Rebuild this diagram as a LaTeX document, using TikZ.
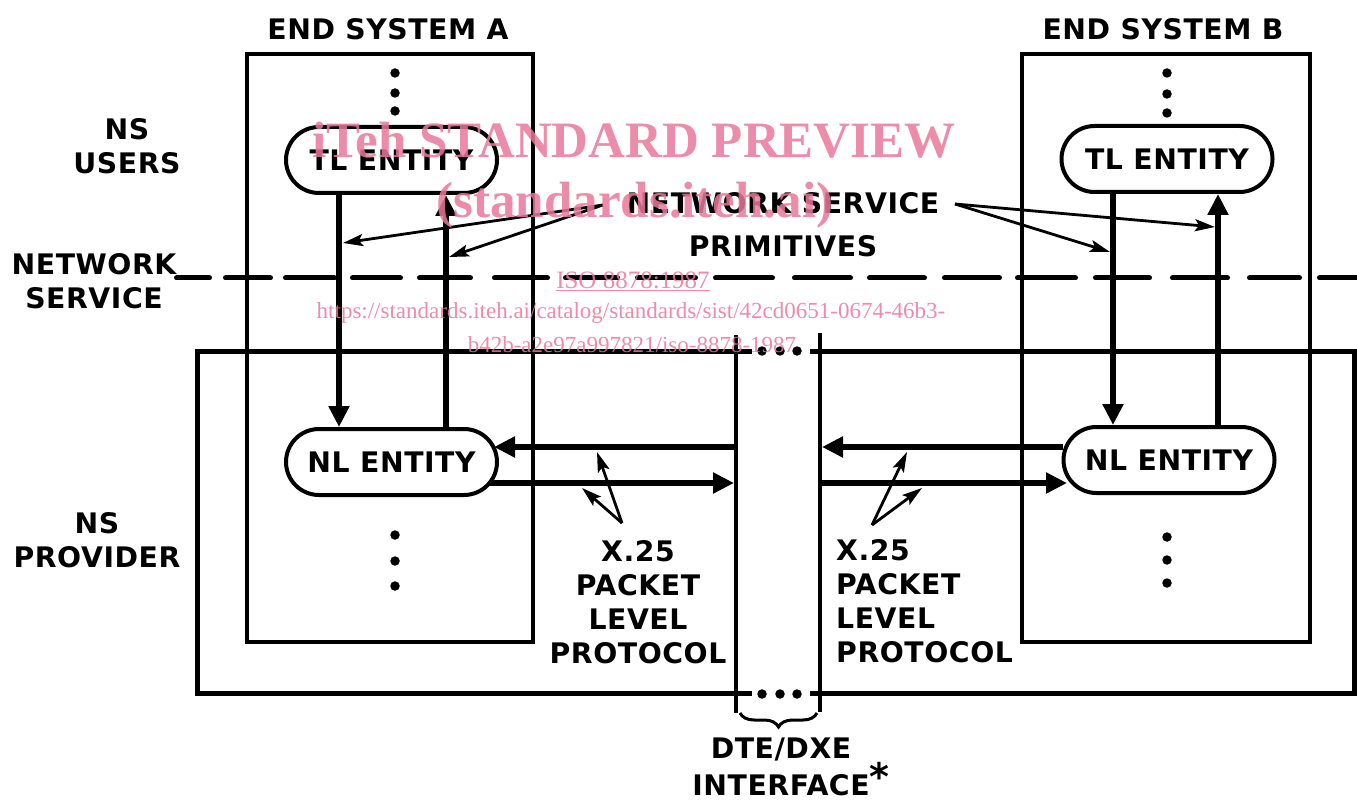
\documentclass[tikz,border=0pt]{standalone}
\usepackage{fontspec}
\usetikzlibrary{arrows.meta,shapes.misc,decorations.pathreplacing}
\newfontfamily\lab{DejaVu Sans}[LetterSpace=2]
\newfontfamily\wm{Liberation Serif}
\definecolor{wmpink}{RGB}{233,120,155}
\begin{document}
\begin{tikzpicture}[x=1pt,y=-1pt,
  txt/.style={font=\lab\bfseries\fontsize{28.3}{34}\selectfont, align=center, inner sep=0pt},
  pill/.style={draw, rounded rectangle, line width=4pt, minimum width=211pt, minimum height=66pt, inner sep=0pt, font=\lab\bfseries\fontsize{28.3}{34}\selectfont},
  sysbox/.style={draw, line width=4pt},
  big/.style={line width=6pt, -{Triangle[length=21pt,width=20pt]}},
  thin/.style={line width=2.8pt, -{Stealth[length=20pt,width=12pt,inset=4pt]}},
  bound/.style={line width=5pt},
  dteline/.style={line width=4pt},
  dashseg/.style={line width=5pt, line cap=round},
  dot/.style={fill, circle, inner sep=0pt, minimum size=9.5pt},
  wmark/.style={text=wmpink, text opacity=0.85, inner sep=0pt}
]
\useasboundingbox (0,0) rectangle (1357,802);

% end system boxes
\draw[sysbox] (247,54) rectangle (533,642);
\draw[sysbox] (1022,54) rectangle (1310,642);
\node[txt] (esA) at (388,29) {END SYSTEM A};
\node[txt] (esB) at (1163,29) {END SYSTEM B};

% dots
\foreach \y [count=\i] in {73,93,111} \node[dot] (dAt\i) at (395,\y) {};
\foreach \y [count=\i] in {535,561,586} \node[dot] (dAb\i) at (395,\y) {};
\foreach \y [count=\i] in {73,94,113} \node[dot] (dBt\i) at (1167,\y) {};
\foreach \y [count=\i] in {537,560,583} \node[dot] (dBb\i) at (1167,\y) {};

% entities
\node[pill] (tlA) at (391.5,160) {TL ENTITY};
\node[pill] (nlA) at (391.5,462) {NL ENTITY};
\node[pill] (tlB) at (1167,159) {TL ENTITY};
\node[pill] (nlB) at (1169,460) {NL ENTITY};

% provider box with gaps
\draw[bound] (752,351) -- (197,351) -- (197,693) -- (752,693);
\draw[bound] (810,693) -- (1354,693) -- (1354,351) -- (810,351);
\foreach \x [count=\i] in {762,780,797} {
  \node[dot] (pt\i) at (\x,351) {};
  \node[dot] (pb\i) at (\x,694) {};
}

% DTE/DXE lines
\coordinate (dLt) at (736,335); \coordinate (dLb) at (736,713);
\coordinate (dRt) at (820,333); \coordinate (dRb) at (820,712);
\draw[dteline] (dLt) -- (dLb);
\draw[dteline] (dRt) -- (dRb);
\draw[decorate, decoration={brace, mirror, amplitude=14pt}, line width=3pt] (740,713) -- (817,713);
\node[txt] (dte) at (781,767) {DTE/DXE\\INTERFACE\rlap{\raisebox{5pt}{\fontsize{38}{38}\selectfont *}}};

% network service dashed boundary
\foreach \a/\b in {174/212,223/273,283/337,350/403,417/473,492/550,563/620,635/698,713/775,792/853,867/927,942/1002,1015/1078,1093/1152,1170/1230,1247/1302,1317/1360}
  \draw[dashseg] (\a+2.5,278) -- (\b-2.5,278);

% vertical arrows
\coordinate (xA1) at (339,0); \coordinate (xA2) at (446,0);
\coordinate (xB1) at (1113,0); \coordinate (xB2) at (1218,0);
\draw[big] (tlA.south -| xA1) -- (nlA.north -| xA1);
\draw[big] (nlA.north -| xA2) -- (tlA.south -| xA2);
\draw[big] (tlB.south -| xB1) -- (nlB.north -| xB1);
\draw[big] (nlB.north -| xB2) -- (tlB.south -| xB2);

% horizontal arrows
\coordinate (aInA) at (494,447); \coordinate (aOutA) at (489,483);
\coordinate (aInB) at (1063,447); \coordinate (aOutB) at (1067,483);
\draw[big] (dLt |- aInA) -- (aInA);
\draw[big] (aOutA) -- ([xshift=-2pt]dLt |- aOutA);
\draw[big] (aInB) -- ([xshift=2pt]dRt |- aInB);
\draw[big] (dRt |- aOutB) -- (aOutB);

% labels
\node[txt] (nsu) at (127,146.5) {NS\\USERS};
\node[txt] (nsv) at (94,281.5) {NETWORK\\SERVICE};
\node[txt] (nsp) at (97,540.5) {NS\\PROVIDER};
\node[txt] (prim) at (783,224.5) {NETWORK SERVICE\\[9pt]PRIMITIVES};
\node[txt] (xA) at (638,602) {X.25\\PACKET\\LEVEL\\PROTOCOL};
\node[txt, align=left, anchor=west] (xB) at (836,601) {X.25\\PACKET\\LEVEL\\PROTOCOL};

% primitive pointers
\coordinate (pL) at (603,205); \coordinate (pR) at (955,204);
\coordinate (tA1) at (343,243); \coordinate (tA2) at (449,257);
\coordinate (tB1) at (1110,252); \coordinate (tB2) at (1215,227);
\draw[thin] (pL) -- (tA1);
\draw[thin] (pL) -- (tA2);
\draw[thin] (pR) -- (tB1);
\draw[thin] (pR) -- (tB2);

% X.25 pointers
\coordinate (qA) at (622,523); \coordinate (qB) at (872,525);
\draw[thin] (qA) -- (597,452);
\draw[thin] (qA) -- (582,488);
\draw[thin] (qB) -- (907,452);
\draw[thin] (qB) -- (922,488);

% watermark
\node[wmark, font=\wm\bfseries\fontsize{51}{51}\selectfont] (w1) at (634,140) {iTeh STANDARD PREVIEW};
\node[wmark, font=\wm\bfseries\fontsize{51}{51}\selectfont] (w2) at (635,205) {(standards.iteh.ai)};
\node[wmark, font=\wm\fontsize{25}{25}\selectfont] (w3) at (633,281) {\underline{ISO 8878:1987}};
\node[wmark, font=\wm\fontsize{23}{23}\selectfont] (w4) at (631,313) {https://standards.iteh.ai/catalog/standards/sist/42cd0651-0674-46b3-};
\node[wmark, font=\wm\fontsize{23}{23}\selectfont] (w5) at (632,345) {b42b-a2e97a997821/iso-8878-1987};
\end{tikzpicture}
\end{document}
